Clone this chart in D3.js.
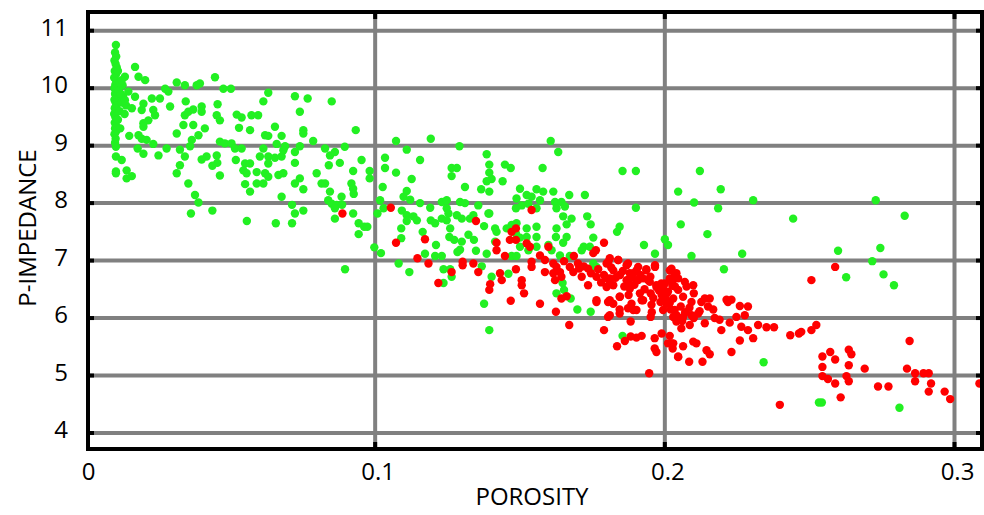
<!DOCTYPE html>
<html><head><meta charset="utf-8">
<script src="https://cdn.jsdelivr.net/npm/d3@7"></script>
<style>html,body{margin:0;padding:0;background:#fff;}svg{display:block;}</style>
</head><body>
<svg id="chart" width="984" height="515"></svg>
<script>
// ---- data: [porosity, p-impedance] ----
const xTicks = [0, 0.1, 0.2, 0.3];
const yTicks = [4, 5, 6, 7, 8, 9, 10, 11];
const xTickLabels = ["0", "0.1", "0.2", "0.3"];
const yTickLabels = ["4", "5", "6", "7", "8", "9", "10", "11"];
const xTitle = "POROSITY";
const yTitle = "P-IMPEDANCE";

const greenStack = [
[0.0105,10.75],[0.0102,10.62],[0.0106,10.55],[0.0100,10.48],[0.0104,10.42],[0.0108,10.36],[0.0101,10.30],[0.0105,10.24],
[0.0099,10.18],[0.0107,10.12],[0.0103,10.06],[0.0100,10.00],[0.0106,9.95],[0.0102,9.90],[0.0108,9.85],[0.0100,9.80],
[0.0104,9.75],[0.0107,9.70],[0.0101,9.65],[0.0105,9.60],[0.0099,9.55],[0.0103,9.50],[0.0107,9.45],[0.0101,9.40],
[0.0105,9.35],[0.0102,9.30],[0.0106,9.25],[0.0100,9.20],[0.0104,9.12],[0.0102,9.05],[0.0105,8.98],[0.0115,9.95],
[0.0125,9.75],[0.0118,9.60],[0.0130,9.85],[0.0112,9.45],[0.0120,9.30],[0.0135,9.55],[0.0128,10.05],[0.0140,9.70],
[0.0118,10.10],[0.0112,10.30],[0.0122,9.90]
];

const greenLow = [
[0.0105,8.81],[0.0125,8.75],[0.0105,8.55],[0.0105,8.52],[0.0142,8.57],[0.0142,8.43],[0.0160,8.47],[0.0151,9.17],
[0.0171,10.37],[0.0183,10.20],[0.0206,10.14],[0.0136,10.20],[0.0125,10.14],[0.0148,9.94],[0.0171,9.85],[0.0136,9.79],
[0.0160,9.65],[0.0194,9.62],[0.0200,9.73],[0.0229,9.82],[0.0257,9.82],[0.0286,9.94],[0.0275,9.99],[0.0292,9.68],
[0.0234,9.62],[0.0240,9.53],[0.0217,9.44],[0.0200,9.39],[0.0200,9.33],[0.0183,9.18],[0.0194,9.12],[0.0211,9.10],
[0.0234,9.03],[0.0180,8.95],[0.0200,8.86],[0.0252,8.83],[0.0280,8.95],[0.0315,9.21],[0.0338,9.36],[0.0372,9.36],
[0.0343,9.53],[0.0355,9.59],[0.0372,9.63],[0.0401,9.68],[0.0401,9.59],[0.0346,9.77],[0.0315,10.10],[0.0343,10.05],
[0.0384,10.05],[0.0395,10.08],[0.0447,10.19],[0.0476,9.99],[0.0502,9.99],[0.0456,9.72],[0.0453,9.53],[0.0464,9.44],
[0.0412,9.30],[0.0390,9.18],[0.0367,9.10],[0.0361,8.99],[0.0326,8.93],[0.0343,8.81],[0.0326,8.66],[0.0315,8.52],
[0.0355,8.34],[0.0378,8.14],[0.0390,8.01],[0.0364,7.82],[0.0438,7.87],[0.0418,8.81],[0.0401,8.76],[0.0453,8.83],
[0.0455,8.70],[0.0438,8.65],[0.0464,8.48],[0.0464,9.07],[0.0481,9.04],[0.0504,9.04],[0.0516,8.95],[0.0539,8.95],
[0.0519,8.75],[0.0522,9.54],[0.0539,9.49],[0.0530,9.31],[0.0568,9.27],[0.0573,9.53],[0.0596,9.53],[0.0614,9.77],
[0.0631,9.92],[0.0620,9.18],[0.0631,9.17],[0.0654,9.33],[0.0677,9.17],[0.0660,9.03],[0.0689,8.99],[0.0683,8.92],
[0.0614,8.95],[0.0602,8.81],[0.0631,8.81],[0.0654,8.79],[0.0677,8.81],[0.0631,8.69],[0.0551,8.69],[0.0568,8.69],
[0.0545,8.57],[0.0556,8.52],[0.0591,8.54],[0.0620,8.52],[0.0631,8.46],[0.0666,8.49],[0.0683,8.52],[0.0591,8.34],
[0.0614,8.34],[0.0551,8.33],[0.0568,8.20],[0.0677,8.11],[0.0723,9.86],[0.0740,9.59],[0.0767,9.82],[0.0752,9.27],
[0.0752,9.21],[0.0786,9.08],[0.0740,8.99],[0.0723,8.89],[0.0723,8.70],[0.0740,8.43],[0.0723,8.34],[0.0752,8.24],
[0.0798,8.52],[0.0815,8.34],[0.0827,8.34],[0.0850,9.77],[0.0827,8.95],[0.0844,8.83],[0.0861,8.89],[0.0895,8.98],
[0.0878,8.70],[0.0840,8.66],[0.0933,9.27],[0.0953,8.75],[0.0924,8.56],[0.0981,8.56],[0.0981,8.43],[0.0918,8.34],
[0.0924,8.25],[0.0926,8.16],[0.0884,8.11],[0.0844,8.20],[0.0838,8.05],[0.0850,7.99],[0.0867,7.97],[0.0861,7.91],
[0.0886,7.97],[0.0713,7.97],[0.0723,7.82],[0.0752,7.87],[0.0713,7.65],[0.0657,7.65],[0.0557,7.69],[0.0861,7.73],
[0.0924,7.82],[0.0943,7.65],[0.0962,7.59],[0.0973,7.59],[0.0943,7.46],[0.1008,7.82],[0.0997,7.23],[0.1020,7.13],
[0.0896,6.85]
];

const greenMid = [
[0.1072,9.08],[0.1192,9.12],[0.1109,8.93],[0.1034,8.79],[0.1034,8.61],[0.1155,8.75],[0.1072,8.53],[0.1291,8.99],
[0.1264,8.61],[0.1282,8.61],[0.1264,8.47],[0.1126,8.42],[0.1026,8.28],[0.1109,8.21],[0.1098,8.11],[0.1121,8.06],
[0.1017,8.05],[0.1029,7.91],[0.1155,8.00],[0.1092,7.87],[0.1190,7.92],[0.1230,8.02],[0.1247,8.05],[0.1293,8.02],
[0.1310,8.00],[0.1247,7.91],[0.1356,7.96],[0.1310,8.28],[0.1385,8.85],[0.1394,8.67],[0.1394,8.53],[0.1402,8.42],
[0.1385,8.38],[0.1440,8.38],[0.1448,8.67],[0.1468,8.61],[0.1366,8.24],[0.1394,8.20],[0.1391,7.82],[0.1578,8.61],
[0.1606,9.08],[0.1632,8.89],[0.1109,7.79],[0.1132,7.77],[0.1144,7.70],[0.1109,7.69],[0.1192,7.70],[0.1207,7.65],
[0.1230,7.73],[0.1253,7.82],[0.1247,7.70],[0.1259,7.56],[0.1282,7.79],[0.1299,7.73],[0.1327,7.73],[0.1339,7.79],
[0.1376,7.60],[0.1394,7.82],[0.1164,7.50],[0.1256,7.41],[0.1273,7.36],[0.1322,7.45],[0.1341,7.36],[0.1299,7.33],
[0.1293,7.19],[0.1210,7.27],[0.1284,7.15],[0.1348,7.17],[0.1385,7.12],[0.1172,7.12],[0.1207,7.08],[0.1230,7.08],
[0.1090,7.39],[0.1090,7.56],[0.1081,6.95],[0.1118,6.80],[0.1236,6.85],[0.1259,6.85],[0.1264,6.72],
[0.1236,6.61],[0.1368,6.90],[0.1402,6.72],[0.1460,6.77],[0.1376,6.25],[0.1414,7.56],[0.1419,7.50],[0.1414,7.33],
[0.1454,7.56],[0.1471,7.62],[0.1488,7.65],[0.1486,7.47],[0.1500,7.40],[0.1523,7.41],[0.1557,7.41],[0.1557,7.59],
[0.1523,7.56],[0.1500,7.24],[0.1529,7.18],[0.1557,7.24],[0.1471,7.08],[0.1488,7.08],[0.1500,8.25],[0.1523,8.14],
[0.1540,8.11],[0.1557,8.24],[0.1580,8.20],[0.1569,8.05],[0.1615,8.20],[0.1488,8.08],[0.1486,7.91],[0.1506,7.96],
[0.1529,7.99],[0.1557,7.91],[0.1621,8.02],[0.1643,8.02],[0.1655,7.94],[0.1626,7.91],[0.1670,8.14],[0.1724,8.14],
[0.1649,7.77],[0.1678,7.73],[0.1661,7.63],[0.1626,7.56],[0.1624,7.41],[0.1661,7.41],[0.1649,7.31],[0.1598,7.27],
[0.1609,7.18],[0.1638,7.09],[0.1672,7.08],[0.1720,7.24],[0.1713,7.18],[0.1741,7.24],[0.1753,7.40],[0.1744,7.63],
[0.1732,7.77],[0.1835,7.50],[0.1844,7.59],[0.1854,8.56],[0.1900,8.56],[0.1900,7.92],[0.1928,7.27],[0.1966,7.12],
[0.2000,7.37],[0.2011,7.27],[0.1626,6.43],[0.1647,6.61],[0.1652,6.49],[0.1675,6.34],[0.1698,6.15],[0.1744,6.11],
[0.1753,6.95],[0.1764,6.89],[0.1744,6.83],[0.1394,5.79],[0.1854,5.69]
];

const greenHigh = [
[0.2121,8.56],[0.2046,8.20],[0.2101,8.01],[0.2193,8.24],[0.2184,7.91],[0.2305,8.05],[0.2055,7.63],[0.2147,7.46],
[0.2092,7.08],[0.2267,7.12],[0.2204,6.85],[0.2443,7.73],[0.2728,8.05],[0.2828,7.78],[0.2598,7.17],[0.2744,7.22],
[0.2716,6.99],[0.2626,6.71],[0.2755,6.76],[0.2791,6.57],[0.2341,5.23],[0.2532,4.53],[0.2542,4.53],[0.2810,4.44]
];

const redPoints = [
[0.0887,7.82],[0.1054,7.92],[0.1072,7.31],[0.1172,7.37],[0.1348,7.69],[0.1146,7.04],[0.1184,6.95],[0.1264,6.80],
[0.1218,6.61],[0.1302,6.98],[0.1302,6.92],[0.1339,6.95],[0.1356,6.80],[0.1419,7.31],[0.1419,7.18],[0.1448,7.08],
[0.1471,7.50],[0.1486,7.56],[0.1465,7.36],[0.1486,7.36],[0.1523,7.30],[0.1534,7.24],[0.1540,7.88],[0.1486,6.85],
[0.1540,6.98],[0.1540,6.89],[0.1569,7.09],[0.1586,7.01],[0.1598,7.24],[0.1586,6.80],[0.1615,6.95],[0.1626,6.89],
[0.1615,6.78],[0.1638,6.80],[0.1652,6.99],[0.1643,6.72],[0.1621,6.66],[0.1431,6.78],[0.1437,6.66],[0.1397,6.59],
[0.1394,6.49],[0.1506,6.66],[0.1506,6.57],[0.1514,6.43],[0.1468,6.30],[0.1569,6.25],[0.1624,6.11],[0.1643,6.34],
[0.1661,6.38],[0.1686,7.08],[0.1672,6.89],[0.1684,6.80],[0.1704,6.86],[0.1713,6.72],[0.1735,6.86],[0.1735,6.57],
[0.1753,7.13],[0.1762,7.18],[0.1790,7.31],[0.1764,6.72],[0.1799,6.95],[0.1810,7.04],[0.1839,7.01],[0.1822,6.83],
[0.1799,6.69],[0.1810,6.60],[0.1799,6.54],[0.1844,6.75],[0.1868,6.92],[0.1879,6.78],[0.1873,6.63],[0.1902,6.83],
[0.1908,6.66],[0.1936,6.83],[0.1966,6.92],[0.1942,6.66],[0.1971,6.54],[0.1988,6.60],[0.1994,6.46],[0.2017,6.83],
[0.2028,6.66],[0.2040,6.78],[0.2006,6.31],[0.1914,6.43],[0.1925,6.31],[0.1844,6.37],[0.1822,6.25],[0.1764,6.28],
[0.1804,6.28],[0.1873,6.17],[0.1902,6.14],[0.1954,6.23],[0.1994,6.14],[0.1804,6.02],[0.1844,6.08],
[0.1805,6.98],[0.1839,7.01],[0.1873,6.95],[0.1908,6.89],[0.1936,6.85],[0.1966,6.89],[0.1891,6.78],[0.1845,6.75],
[0.1810,6.69],[0.1868,6.66],[0.1902,6.66],[0.1925,6.69],[0.1948,6.63],[0.1971,6.57],[0.1994,6.54],[0.2011,6.46],
[0.1989,6.40],[0.2029,6.34],[0.2006,6.25],[0.1951,6.43],[0.1920,6.31],[0.1885,6.25],[0.1845,6.37],[0.1810,6.31],
[0.1764,6.31],[0.1822,6.57],[0.1879,6.51],[0.2017,6.69],[0.2034,6.75],[0.2000,6.60],[0.2023,6.86],[0.2026,6.56],
[0.1810,6.05],[0.1844,6.15],[0.1891,6.14],[0.1951,6.02],[0.2029,6.02],[0.1670,5.88],[0.1790,5.79],[0.1835,5.51],
[0.1862,5.60],[0.1882,5.68],[0.1902,5.66],[0.1920,5.69],[0.1882,5.94],[0.1965,5.65],[0.1965,5.47],[0.1971,5.41],
[0.2017,5.69],[0.2011,5.56],[0.2029,5.56],[0.2027,5.47],[0.2046,5.33],[0.1946,5.04],[0.1989,5.73],
[0.2035,6.72],[0.2023,6.63],[0.2046,6.69],[0.2069,6.63],[0.2075,6.55],[0.2098,6.57],[0.2100,6.43],[0.2046,6.49],
[0.2063,6.37],[0.2092,6.28],[0.2126,6.28],[0.2155,6.34],[0.2138,6.34],[0.2149,6.20],[0.2167,6.15],[0.2213,6.32],
[0.2230,6.32],[0.2218,6.28],[0.2259,6.21],[0.2287,6.20],[0.2276,6.05],[0.2247,6.02],[0.2189,5.97],[0.2172,6.00],
[0.2138,5.91],[0.2115,6.08],[0.2092,6.05],[0.2063,6.02],[0.2040,5.94],[0.2057,5.82],[0.2086,5.88],[0.2034,6.14],
[0.2017,6.26],[0.2195,5.79],[0.2224,5.92],[0.2264,5.85],[0.2287,5.79],[0.2322,5.88],[0.2351,5.84],[0.2377,5.84],
[0.2433,5.70],[0.2463,5.73],[0.2471,5.76],[0.2506,5.79],[0.2523,5.88],[0.2259,5.61],[0.2305,5.65],[0.2230,5.41],
[0.2144,5.44],[0.2155,5.37],[0.2098,5.59],[0.2109,5.56],[0.2063,5.51],[0.2023,5.56],[0.2046,5.32],[0.2084,5.24],
[0.2130,5.24],[0.2544,5.33],[0.2571,5.41],[0.2588,5.28],[0.2635,5.45],[0.2644,5.37],[0.2635,5.18],[0.2544,5.15],
[0.2845,5.60],[0.2690,5.12],[0.2836,5.12],[0.2588,6.89],[0.2506,6.66],
[0.2544,4.99],[0.2563,4.94],[0.2588,4.86],[0.2627,4.99],[0.2635,4.90],[0.2607,4.62],[0.2736,4.81],[0.2772,4.81],
[0.2864,5.04],[0.2893,5.04],[0.2911,5.04],[0.2864,4.90],[0.2919,4.86],[0.2911,4.72],[0.2966,4.72],[0.2985,4.59],
[0.2397,4.49],[0.3086,4.86],
[0.1700,6.95],[0.1720,6.90],[0.1745,6.78],[0.1770,6.85],[0.1780,6.62],[0.1790,6.75],[0.1815,6.88],[0.1830,6.70],
[0.1855,6.82],[0.1860,6.55],[0.1880,6.70],[0.1895,6.58],[0.1915,6.75],[0.1930,6.50],[0.1950,6.72],[0.1960,6.35],
[0.1980,6.48],[0.1985,6.28],[0.2005,6.42],[0.2020,6.15],[0.2040,6.05],[0.2055,6.20],[0.2070,6.10],[0.2060,5.95],
[0.2085,6.18],[0.2100,6.00],[0.2120,6.12],[0.2035,6.55],[0.1955,6.10],[0.1875,6.40]
];

const greenPoints = greenStack.concat(greenLow, greenMid, greenHigh);

// ---- drawing ----
const svg = d3.select("#chart");
const L = 88, R = 982, T = 12, B = 449;
const x = d3.scaleLinear().domain([0, 0.3]).range([85.5, 954.5]);
const y = d3.scaleLinear().domain([4, 11]).range([433, 30.7]);
const FONT = "'Open Sans', sans-serif";

svg.append("defs").append("clipPath").attr("id", "clip")
  .append("rect").attr("x", L).attr("y", T).attr("width", R - L).attr("height", B - T);

// grid
const grid = svg.append("g");
grid.selectAll("line.h").data(yTicks).join("line")
  .attr("x1", L).attr("x2", R).attr("y1", d => y(d)).attr("y2", d => y(d))
  .attr("stroke", "#808080").attr("stroke-width", 4);
grid.selectAll("line.v").data(xTicks.filter(d => x(d) > L + 2)).join("line")
  .attr("y1", T).attr("y2", B).attr("x1", d => x(d)).attr("x2", d => x(d))
  .attr("stroke", "#808080").attr("stroke-width", 4);

// points
const pts = svg.append("g").attr("clip-path", "url(#clip)");
pts.selectAll("circle.g").data(greenPoints).join("circle")
  .attr("cx", d => x(d[0])).attr("cy", d => y(d[1])).attr("r", 4.2).attr("fill", "#22f022");
pts.selectAll("circle.r").data(redPoints).join("circle")
  .attr("cx", d => x(d[0])).attr("cy", d => y(d[1])).attr("r", 4.2).attr("fill", "#ff0000");

// black tick stubs at gridline ends
const ticks = svg.append("g").attr("stroke", "#000").attr("stroke-width", 4);
yTicks.forEach(v => {
  ticks.append("line").attr("x1", L).attr("x2", L + 6).attr("y1", y(v)).attr("y2", y(v));
  ticks.append("line").attr("x1", R - 6).attr("x2", R).attr("y1", y(v)).attr("y2", y(v));
});
xTicks.filter(d => x(d) > L + 2).forEach(v => {
  ticks.append("line").attr("y1", T).attr("y2", T + 7).attr("x1", x(v)).attr("x2", x(v));
  ticks.append("line").attr("y1", B - 7).attr("y2", B).attr("x1", x(v)).attr("x2", x(v));
});

// frame
svg.append("rect").attr("x", L).attr("y", T).attr("width", R - L).attr("height", B - T)
  .attr("fill", "none").attr("stroke", "#000").attr("stroke-width", 4);

// tick labels
svg.append("g").selectAll("text").data(yTicks).join("text")
  .attr("x", 68).attr("y", d => y(d)).attr("dy", "0.22em")
  .attr("text-anchor", "end").attr("font-family", FONT).attr("font-size", 24).attr("fill", "#000")
  .text((d, i) => yTickLabels[i]);
svg.append("g").selectAll("text").data(xTicks).join("text")
  .attr("x", d => x(d) + 3).attr("y", 480)
  .attr("text-anchor", "middle").attr("font-family", FONT).attr("font-size", 24).attr("fill", "#000")
  .text((d, i) => xTickLabels[i]);

// axis titles
svg.append("text").attr("x", 532).attr("y", 505).attr("text-anchor", "middle")
  .attr("font-family", FONT).attr("font-size", 24).attr("fill", "#000").text(xTitle);
svg.append("text").attr("transform", "translate(36,228) rotate(-90)").attr("text-anchor", "middle")
  .attr("font-family", FONT).attr("font-size", 24).attr("fill", "#000").text(yTitle);
</script>
</body></html>
